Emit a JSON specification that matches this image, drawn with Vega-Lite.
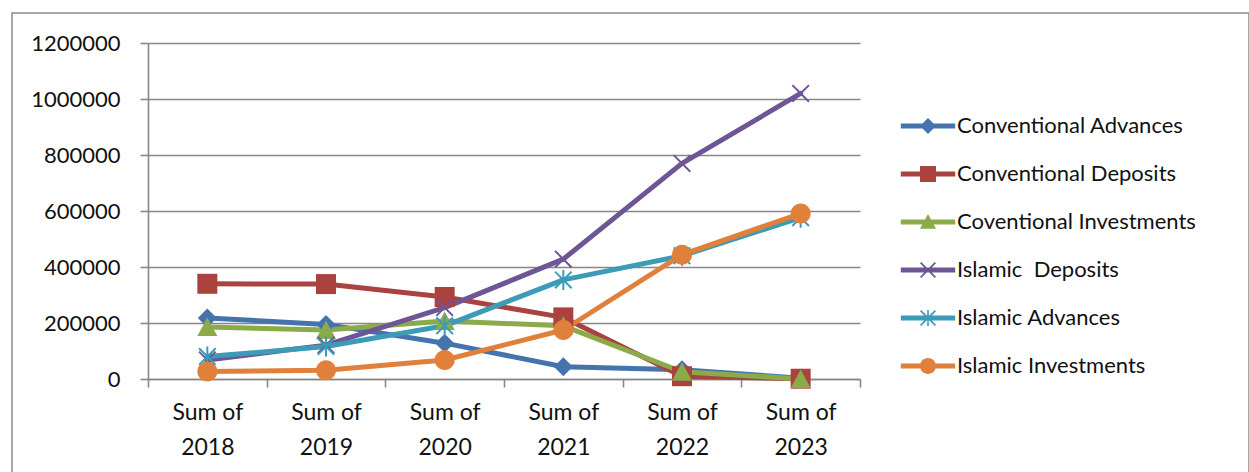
{
  "$schema": "https://vega.github.io/schema/vega-lite/v6.json",
  "width": 1237,
  "height": 470,
  "padding": {"left": 12, "top": 13, "right": 0, "bottom": 0},
  "autosize": {"type": "none"},
  "background": "white",
  "config": {
    "font": "Lato",
    "view": {"stroke": "#8a8a8a", "strokeWidth": 1.5},
    "axis": {
      "labelFont": "Lato",
      "labelFontSize": 22,
      "labelColor": "#111111",
      "domainColor": "#878787",
      "domainWidth": 1.6,
      "tickColor": "#878787",
      "tickWidth": 1.6,
      "tickSize": 8,
      "gridColor": "#878787",
      "gridWidth": 1.6
    }
  },
  "data": {
    "values": [
      {"period": "Sum of 2018", "series": "Conventional Advances", "value": 218000},
      {"period": "Sum of 2019", "series": "Conventional Advances", "value": 195000},
      {"period": "Sum of 2020", "series": "Conventional Advances", "value": 128000},
      {"period": "Sum of 2021", "series": "Conventional Advances", "value": 44000},
      {"period": "Sum of 2022", "series": "Conventional Advances", "value": 33000},
      {"period": "Sum of 2023", "series": "Conventional Advances", "value": 3000},
      {"period": "Sum of 2018", "series": "Conventional Deposits", "value": 340000},
      {"period": "Sum of 2019", "series": "Conventional Deposits", "value": 339000},
      {"period": "Sum of 2020", "series": "Conventional Deposits", "value": 293000},
      {"period": "Sum of 2021", "series": "Conventional Deposits", "value": 220000},
      {"period": "Sum of 2022", "series": "Conventional Deposits", "value": 10000},
      {"period": "Sum of 2023", "series": "Conventional Deposits", "value": 1000},
      {"period": "Sum of 2018", "series": "Coventional Investments", "value": 186000},
      {"period": "Sum of 2019", "series": "Coventional Investments", "value": 175000},
      {"period": "Sum of 2020", "series": "Coventional Investments", "value": 207000},
      {"period": "Sum of 2021", "series": "Coventional Investments", "value": 190000},
      {"period": "Sum of 2022", "series": "Coventional Investments", "value": 26000},
      {"period": "Sum of 2023", "series": "Coventional Investments", "value": 0},
      {"period": "Sum of 2018", "series": "Islamic  Deposits", "value": 68000},
      {"period": "Sum of 2019", "series": "Islamic  Deposits", "value": 121000},
      {"period": "Sum of 2020", "series": "Islamic  Deposits", "value": 255000},
      {"period": "Sum of 2021", "series": "Islamic  Deposits", "value": 428000},
      {"period": "Sum of 2022", "series": "Islamic  Deposits", "value": 770000},
      {"period": "Sum of 2023", "series": "Islamic  Deposits", "value": 1020000},
      {"period": "Sum of 2018", "series": "Islamic Advances", "value": 80000},
      {"period": "Sum of 2019", "series": "Islamic Advances", "value": 116000},
      {"period": "Sum of 2020", "series": "Islamic Advances", "value": 190000},
      {"period": "Sum of 2021", "series": "Islamic Advances", "value": 354000},
      {"period": "Sum of 2022", "series": "Islamic Advances", "value": 440000},
      {"period": "Sum of 2023", "series": "Islamic Advances", "value": 576000},
      {"period": "Sum of 2018", "series": "Islamic Investments", "value": 27000},
      {"period": "Sum of 2019", "series": "Islamic Investments", "value": 31000},
      {"period": "Sum of 2020", "series": "Islamic Investments", "value": 68000},
      {"period": "Sum of 2021", "series": "Islamic Investments", "value": 175000},
      {"period": "Sum of 2022", "series": "Islamic Investments", "value": 444000},
      {"period": "Sum of 2023", "series": "Islamic Investments", "value": 591000}
    ]
  },
  "encoding": {
    "x": {
      "field": "period",
      "type": "ordinal",
      "sort": null,
      "title": null,
      "scale": {"type": "band", "range": [136, 848], "paddingInner": 0, "paddingOuter": 0},
      "axis": {
        "orient": "bottom",
        "offset": -104,
        "tickBand": "extent",
        "labelAngle": 0,
        "labelFontSize": 23,
        "labelPadding": 14,
        "labelLineHeight": 35,
        "labelExpr": "datum.label ? ['Sum of', slice(datum.label, 7)] : ''",
        "grid": false
      }
    },
    "y": {
      "field": "value",
      "type": "quantitative",
      "title": null,
      "scale": {"domain": [0, 1200000], "range": [366, 30], "nice": false, "zero": true},
      "axis": {
        "orient": "left",
        "offset": -136,
        "values": [0, 200000, 400000, 600000, 800000, 1000000, 1200000],
        "format": "d",
        "labelPadding": 20,
        "grid": true
      }
    }
  },
  "layer": [
    {
      "mark": {"type": "line", "strokeWidth": 5, "strokeCap": "round", "strokeJoin": "round"},
      "encoding": {
        "color": {
          "field": "series",
          "type": "nominal",
          "legend": null,
          "scale": {
            "domain": ["Conventional Advances", "Conventional Deposits", "Coventional Investments", "Islamic  Deposits", "Islamic Advances", "Islamic Investments"],
            "range": ["#4573AE", "#AA4340", "#8BAA4A", "#6E5595", "#3C9BB6", "#E0803A"]
          }
        }
      }
    },
    {
      "mark": {"type": "point", "filled": true, "opacity": 1, "size": 400, "strokeWidth": 0},
      "encoding": {
        "color": {
          "field": "series",
          "type": "nominal",
          "legend": null,
          "scale": {
            "domain": ["Conventional Advances", "Conventional Deposits", "Coventional Investments", "Islamic  Deposits", "Islamic Advances", "Islamic Investments"],
            "range": ["#4573AE", "#AA4340", "#8BAA4A", "#6E5595", "#3C9BB6", "#E0803A"]
          }
        },
        "shape": {
          "field": "series",
          "type": "nominal",
          "legend": null,
          "scale": {
            "domain": ["Conventional Advances", "Conventional Deposits", "Coventional Investments", "Islamic  Deposits", "Islamic Advances", "Islamic Investments"],
            "range": [
              "M0,-0.95L0.95,0L0,0.95L-0.95,0Z",
              "M-1,-1H1V1H-1Z",
              "M0,-0.95L1,0.9H-1Z",
              "M-0.9,-0.76L-0.76,-0.9L0.9,0.76L0.76,0.9Z M0.76,-0.9L0.9,-0.76L-0.76,0.9L-0.9,0.76Z",
              "M-0.9,-0.76L-0.76,-0.9L0.9,0.76L0.76,0.9Z M0.76,-0.9L0.9,-0.76L-0.76,0.9L-0.9,0.76Z M-0.1,-1H0.1V1H-0.1Z",
              "M-1,0A1,1,0,1,1,1,0A1,1,0,1,1,-1,0Z"
            ]
          }
        }
      }
    },
    {
      "mark": {"type": "point", "filled": true, "opacity": 0, "size": 256},
      "encoding": {
        "color": {
          "field": "series",
          "type": "nominal",
          "scale": {
            "domain": ["Conventional Advances", "Conventional Deposits", "Coventional Investments", "Islamic  Deposits", "Islamic Advances", "Islamic Investments"],
            "range": ["#4573AE", "#AA4340", "#8BAA4A", "#6E5595", "#3C9BB6", "#E0803A"]
          },
          "legend": {
            "orient": "none",
            "legendX": 905,
            "legendY": 102,
            "title": null,
            "padding": 0,
            "symbolSize": 256,
            "symbolStrokeWidth": 0,
            "symbolOpacity": 1,
            "labelFont": "Lato",
            "labelFontSize": 22,
            "labelColor": "#111111",
            "labelOffset": 18,
            "labelLimit": 400,
            "rowPadding": 26,
            "labelExpr": "replace(datum.label, '  ', '\u00a0 ')",
            "encode": {
              "symbols": {"update": {"opacity": {"value": 1}, "strokeWidth": {"value": 0}}}
            }
          }
        },
        "shape": {
          "field": "series",
          "type": "nominal",
          "scale": {
            "domain": ["Conventional Advances", "Conventional Deposits", "Coventional Investments", "Islamic  Deposits", "Islamic Advances", "Islamic Investments"],
            "range": [
              "M-3.4,-0.3H3.4V0.3H-3.4Z M0,-1L1,0L0,1L-1,0Z",
              "M-3.4,-0.3H3.4V0.3H-3.4Z M-1,-1H1V1H-1Z",
              "M-3.4,-0.3H3.4V0.3H-3.4Z M0,-1L1,0.85H-1Z",
              "M-3.4,-0.3H3.4V0.3H-3.4Z M-1,-0.85L-0.85,-1L1,0.85L0.85,1Z M0.85,-1L1,-0.85L-0.85,1L-1,0.85Z",
              "M-3.4,-0.3H3.4V0.3H-3.4Z M-1,-0.85L-0.85,-1L1,0.85L0.85,1Z M0.85,-1L1,-0.85L-0.85,1L-1,0.85Z M-0.1,-1H0.1V1H-0.1Z",
              "M-3.4,-0.3H3.4V0.3H-3.4Z M-1,0A1,1,0,1,1,1,0A1,1,0,1,1,-1,0Z"
            ]
          },
          "legend": {
            "orient": "none",
            "legendX": 905,
            "legendY": 102,
            "title": null,
            "padding": 0,
            "symbolSize": 256,
            "symbolStrokeWidth": 0,
            "symbolOpacity": 1,
            "labelFont": "Lato",
            "labelFontSize": 22,
            "labelColor": "#111111",
            "labelOffset": 18,
            "labelLimit": 400,
            "rowPadding": 26,
            "labelExpr": "replace(datum.label, '  ', '\u00a0 ')",
            "encode": {
              "symbols": {"update": {"opacity": {"value": 1}, "strokeWidth": {"value": 0}}}
            }
          }
        }
      }
    }
  ],
  "resolve": {"scale": {"shape": "independent", "color": "independent"}}
}
